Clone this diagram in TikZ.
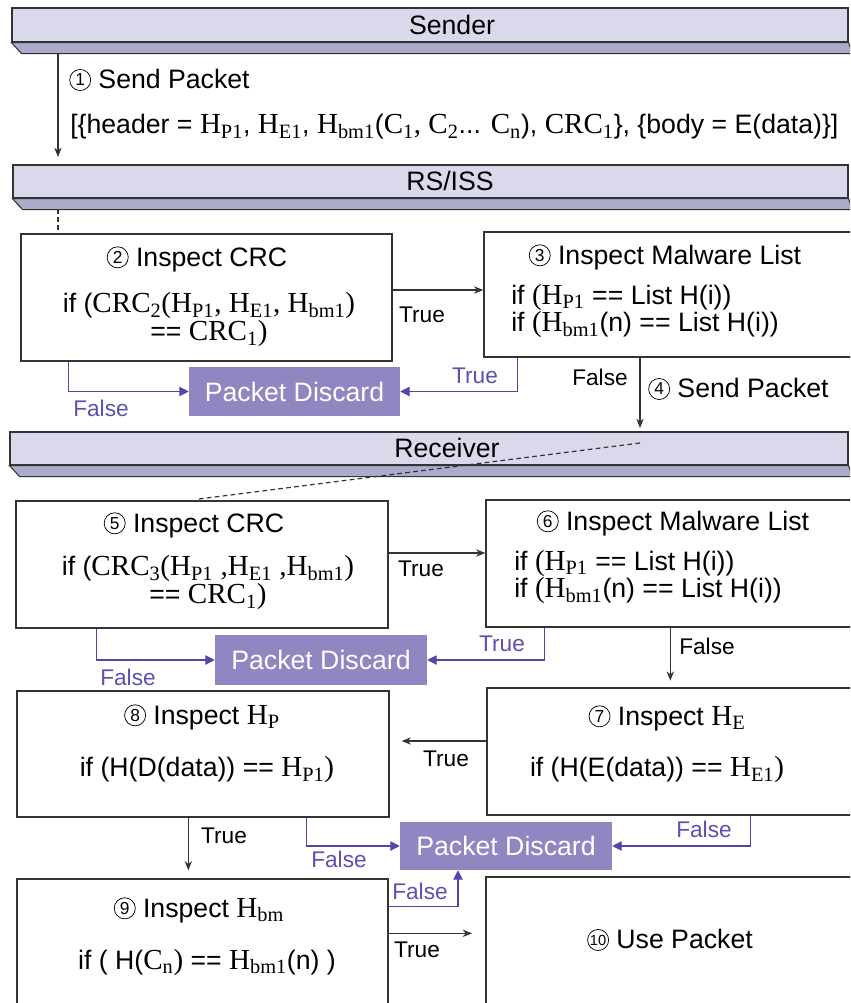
\documentclass[tikz,border=0pt]{standalone}
\usepackage{fontspec}
\setmainfont{Liberation Sans}
\newfontfamily\cam[Scale=1.09]{Liberation Serif}
\usetikzlibrary{arrows.meta,fit,calc}

\definecolor{barface}{HTML}{D9D9EB}
\definecolor{barside}{HTML}{ABABCA}
\definecolor{boxline}{HTML}{333333}
\definecolor{discard}{HTML}{8F87C1}
\definecolor{flowblue}{HTML}{4F47A9}
\definecolor{labelblue}{HTML}{5A52B2}
\definecolor{arrowgray}{HTML}{333333}

\newcommand\bigtxt{\fontsize{20}{19}\selectfont}
\newcommand\twoline{\fontsize{20}{21}\selectfont}
\newcommand\lbltxt{\fontsize{17}{18}\selectfont}
% serif symbol with subscript
\newcommand\sm[2]{{\cam #1\textsubscript{#2}}}
% thin circled step number
\newcommand\cnum[2][13]{\tikz[baseline={([yshift=1.6pt]cn.south)}]\node[circle, draw, line width=0.55pt, inner sep=0pt, minimum size=15.8pt, font=\fontsize{#1}{#1}\selectfont] (cn) {#2};}

\tikzset{
  box/.style={draw=boxline, line width=1pt, fill=white, inner sep=0pt},
  face/.style={draw=boxline, line width=0.8pt, fill=barface, inner sep=0pt, font=\bigtxt},
  discardbox/.style={fill=discard, inner sep=0pt, text=white, font=\bigtxt},
  arr/.style={draw=arrowgray, line width=0.8pt, -{Stealth[length=7pt,width=5.5pt]}},
  bflow/.style={draw=flowblue, line width=0.8pt, -{Triangle[length=7pt,width=7pt]}},
  tlbl/.style={font=\lbltxt, text=black, inner sep=0pt},
  flbl/.style={font=\lbltxt, text=labelblue, inner sep=0pt},
  txt/.style={font=\bigtxt, inner sep=0pt},
  dashline/.style={draw=boxline, line width=0.9pt, dash pattern=on 3.5pt off 2.5pt},
}

\begin{document}
\begin{tikzpicture}[x=0.75pt,y=-0.75pt]
\useasboundingbox (0,0) rectangle (850,1003);
\clip (0,0) rectangle (850,1003);
\fill[white] (0,0) rectangle (850,1003);

% ---- swim-lane bars ----
\node[face, fit={(12,8) (848,42)}] (barS) {};
\node[face, fit={(13,165) (848,198)}] (barV) {};
\node[face, fit={(10,432) (848,465)}] (barR) {};
\foreach \b in {barS,barV,barR}{
  \filldraw[fill=barside, draw=boxline, line width=0.8pt]
    (\b.south west) -- (\b.south east) -- ++(4,11) -- ($(\b.south west)+(10,11)$) -- cycle;
}
\node[txt] at (452,25) {Sender};
\node[txt] at (450,181) {RS/ISS};
\node[txt] at (447,448) {Receiver};

% ---- step 1: packet sent to RS/ISS ----
\coordinate (a1s) at (58,53);
\coordinate (a1e) at (58,157);
\draw[arr] (a1s) -- (a1e);
\node[txt, anchor=west] at (69,80) {\cnum{1} Send Packet};
\node[txt, anchor=west] at (70,127) {[\{header = \sm{H}{P1}, \sm{H}{E1}, \sm{H}{bm1}({\cam C\textsubscript{1}, C\textsubscript{2}}... \sm{C}{n}), \sm{CRC}{1}\}, \{body = E(data)\}]};

\coordinate (v1) at (58,209);
\coordinate (v2) at (58,232);
\draw[dashline] (v1) -- (v2);

% ---- RS/ISS boxes ----
\node[box, fit={(21,234) (392,361)}] (b2) {};
\node[txt] at (197,259) {\cnum{2} Inspect CRC};
\node[txt, font=\twoline, align=center] at (209,320) {if ({\cam CRC\textsubscript{2}(}\sm{H}{P1}{\cam , }\sm{H}{E1}{\cam , }\sm{H}{bm1}{\cam )}\\ == {\cam CRC\textsubscript{1})}};

\node[box, fit={(484,232) (855,357)}] (b3) {};
\node[txt] at (665,257) {\cnum{3} Inspect Malware List};
\node[txt, anchor=west, align=left] at (511,311) {if {\cam (}\sm{H}{P1} == List H(i))\\ if {\cam (}\sm{H}{bm1}(n) == List H(i))};

\node[discardbox, fit={(189,367) (400,416)}] (pd1) {};
\node[txt, text=white] at (pd1.center) {Packet Discard};

\draw[arr] ($(b2.east)+(0,-7.5)$) coordinate (t23) -- (t23 -| b3.west);
\node[tlbl] at (422,315) {True};
\draw[bflow] ($(b2.south west)+(48,0)$) |- (pd1.west);
\node[flbl] at (101,408) {False};
\draw[bflow] ($(b3.south west)+(34,0)$) |- (pd1.east);
\node[flbl] at (475,376) {True};

\coordinate (s4) at (640,428);
\draw[arr] (b3.south -| s4) -- (s4);
\node[tlbl] at (600,377) {False};
\node[txt, anchor=west] at (648,389) {\cnum{4} Send Packet};

% ---- receiver boxes ----
\node[box, fit={(16,501) (388,628)}] (b5) {};
\node[txt] at (194,525) {\cnum{5} Inspect CRC};
\node[txt, font=\twoline, align=center] at (208,583) {if ({\cam CRC\textsubscript{3}(}\sm{H}{P1}{\cam\ ,}\sm{H}{E1}{\cam\ ,}\sm{H}{bm1}{\cam )}\\ == {\cam CRC\textsubscript{1})}};

\coordinate (d1) at (640,443);
\draw[dashline] (d1) -- ($(b5.north west)+(181,-1)$);

\node[box, fit={(486,500) (855,627)}] (b6) {};
\node[txt] at (673,523) {\cnum{6} Inspect Malware List};
\node[txt, anchor=west, align=left] at (514,577) {if {\cam (}\sm{H}{P1} == List H(i))\\ if {\cam (}\sm{H}{bm1}(n) == List H(i))};

\node[discardbox, fit={(215,635) (427,685)}] (pd2) {};
\node[txt, text=white] at (pd2.center) {Packet Discard};

\draw[arr] ($(b5.east)+(0,-11.5)$) coordinate (t56) -- (t56 -| b6.west);
\node[tlbl] at (421,569) {True};
\draw[bflow] ($(b5.south west)+(81,0)$) |- (pd2.west);
\node[flbl] at (128,677) {False};
\draw[bflow] ($(b6.south west)+(59,0)$) |- (pd2.east);
\node[flbl] at (502,644) {True};

\node[box, fit={(487,688) (855,815)}] (b7) {};
\node[txt] at (667,718) {\cnum{7} Inspect \sm{H}{E}};
\node[txt] at (657,770) {if (H(E(data)) == \sm{H}{E1}{\cam )}};

\draw[arr, shorten >=5pt] ($(b6.south west)+(185,0)$) coordinate (f6) -- (f6 |- b7.north);
\node[tlbl] at (707,646) {False};

\node[box, fit={(17,691) (389,817)}] (b8) {};
\node[txt] at (202,717) {\cnum{8} Inspect \sm{H}{P}};
\node[txt] at (207,770) {if (H(D(data)) == \sm{H}{P1}{\cam )}};

\draw[arr, shorten >=9pt] ($(b7.west)+(0,-10.5)$) coordinate (t78) -- (t78 -| b8.east);
\node[tlbl] at (446,759) {True};

\node[discardbox, fit={(400,822) (612,870)}] (pd3) {};
\node[txt, text=white] at (pd3.center) {Packet Discard};

\draw[bflow] ($(b8.south west)+(290,0)$) |- (pd3.west);
\node[flbl] at (339,859) {False};
\draw[bflow] ($(b7.south west)+(264,0)$) |- (pd3.east);
\node[flbl] at (704,829) {False};

\node[box, fit={(17,879) (388,1012)}] (b9) {};
\node[txt] at (199,910) {\cnum{9} Inspect \sm{H}{bm}};
\node[txt] at (207,962) {if ( H({\cam C\textsubscript{n})} == \sm{H}{bm1}(n) )};

\draw[arr, shorten >=6pt] ($(b8.south west)+(172,0)$) coordinate (f8) -- (f8 |- b9.north);
\node[tlbl] at (224,836) {True};

\node[box, fit={(486,877) (855,1012)}] (b10) {};
\node[txt] at (670,940) {\cnum[11]{10} Use Packet};

\coordinate (c458) at (458,0);
\draw[bflow] ($(b9.north east)+(0,28)$) -| (pd3.south -| c458);
\node[flbl] at (420,891) {False};
\draw[arr, shorten >=10pt] ($(b9.north east)+(0,55)$) coordinate (t910) -- (t910 -| b10.west);
\node[tlbl] at (417,950) {True};
\end{tikzpicture}
\end{document}
